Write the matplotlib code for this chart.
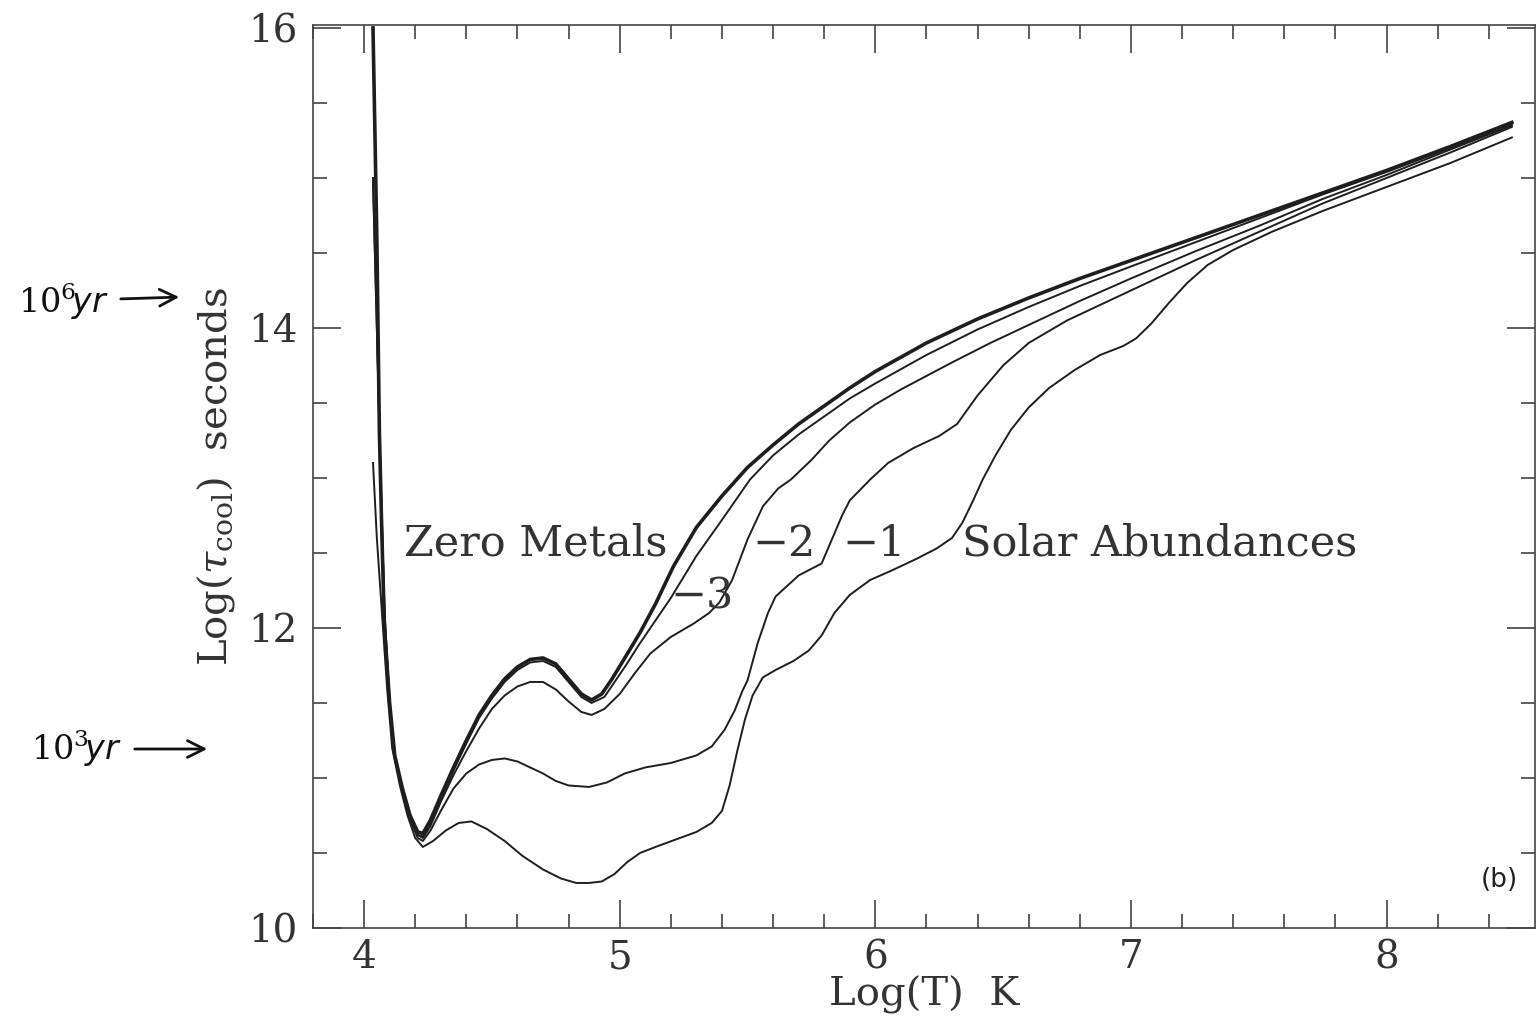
import matplotlib
matplotlib.use("Agg")
import matplotlib.pyplot as plt
from matplotlib.ticker import MultipleLocator

# log T (K) vs log cooling time (s)
zero_x = [4.035, 4.05, 4.06, 4.07, 4.08, 4.10, 4.12, 4.15, 4.18, 4.21, 4.23, 4.26,
          4.30, 4.35, 4.40, 4.45, 4.50, 4.55, 4.60, 4.65, 4.70, 4.75, 4.80, 4.85,
          4.89, 4.93, 4.97, 5.02, 5.08, 5.14, 5.21, 5.30, 5.40, 5.50, 5.60, 5.70,
          5.80, 5.90, 6.00, 6.20, 6.40, 6.60, 6.80, 7.00, 7.25, 7.50, 7.75, 8.00,
          8.25, 8.49]
zero_y = [16.0, 14.6, 13.3, 12.6, 12.0, 11.5, 11.15, 10.93, 10.75, 10.64, 10.63, 10.72,
          10.88, 11.07, 11.25, 11.42, 11.55, 11.66, 11.74, 11.79, 11.80, 11.76, 11.66, 11.56,
          11.52, 11.56, 11.66, 11.80, 11.97, 12.16, 12.41, 12.67, 12.88, 13.07, 13.22, 13.36,
          13.48, 13.60, 13.71, 13.90, 14.06, 14.20, 14.33, 14.45, 14.60, 14.75, 14.90, 15.05,
          15.21, 15.37]

m3_x = [4.035, 4.05, 4.06, 4.07, 4.08, 4.10, 4.12, 4.15, 4.18, 4.21, 4.23, 4.26,
        4.30, 4.35, 4.40, 4.45, 4.50, 4.55, 4.60, 4.65, 4.70, 4.75, 4.80, 4.85,
        4.89, 4.94, 5.02, 5.08, 5.14, 5.20, 5.30, 5.40, 5.51, 5.60, 5.70, 5.80,
        5.90, 6.00, 6.20, 6.40, 6.60, 6.80, 7.00, 7.25, 7.50, 7.75, 8.00, 8.25, 8.49]
m3_y = [16.0, 14.6, 13.3, 12.6, 12.0, 11.5, 11.14, 10.91, 10.73, 10.62, 10.61, 10.70,
        10.86, 11.05, 11.23, 11.40, 11.53, 11.64, 11.72, 11.77, 11.78, 11.74, 11.64, 11.54,
        11.50, 11.54, 11.74, 11.90, 12.05, 12.20, 12.48, 12.72, 12.99, 13.15, 13.29, 13.41,
        13.53, 13.63, 13.82, 13.99, 14.14, 14.28, 14.41, 14.57, 14.73, 14.89, 15.04, 15.20, 15.36]

m2_x = [4.035, 4.05, 4.065, 4.08, 4.10, 4.12, 4.15, 4.18, 4.21, 4.23, 4.26, 4.30,
        4.35, 4.40, 4.45, 4.50, 4.55, 4.60, 4.65, 4.70, 4.75, 4.80, 4.85, 4.89,
        4.94, 5.00, 5.06, 5.12, 5.20, 5.29, 5.35, 5.39, 5.44, 5.50, 5.56, 5.62,
        5.67, 5.75, 5.82, 5.90, 6.00, 6.10, 6.20, 6.30, 6.45, 6.60, 6.80, 7.00,
        7.25, 7.50, 7.75, 8.00, 8.25, 8.49]
m2_y = [15.0, 14.0, 13.0, 12.1, 11.5, 11.15, 10.92, 10.73, 10.62, 10.60, 10.68, 10.84,
        11.02, 11.18, 11.33, 11.46, 11.55, 11.61, 11.64, 11.64, 11.59, 11.51, 11.44, 11.42,
        11.46, 11.56, 11.70, 11.83, 11.94, 12.03, 12.10, 12.17, 12.32, 12.59, 12.81, 12.93,
        12.99, 13.12, 13.25, 13.37, 13.49, 13.59, 13.68, 13.77, 13.90, 14.02, 14.18, 14.33,
        14.51, 14.68, 14.86, 15.02, 15.19, 15.35]

m1_x = [4.035, 4.05, 4.065, 4.08, 4.10, 4.12, 4.15, 4.18, 4.21, 4.23, 4.26, 4.30,
        4.35, 4.40, 4.45, 4.50, 4.55, 4.60, 4.65, 4.70, 4.75, 4.80, 4.88, 4.95,
        5.02, 5.10, 5.20, 5.30, 5.36, 5.41, 5.45, 5.48, 5.50, 5.54, 5.58, 5.61,
        5.70, 5.79, 5.83, 5.87, 5.90, 5.98, 6.05, 6.15, 6.25, 6.32, 6.40, 6.50,
        6.60, 6.75, 6.90, 7.00, 7.25, 7.50, 7.75, 8.00, 8.25, 8.49]
m1_y = [14.97, 14.0, 13.0, 12.1, 11.5, 11.15, 10.90, 10.72, 10.60, 10.58, 10.65, 10.78,
        10.93, 11.03, 11.09, 11.12, 11.13, 11.11, 11.07, 11.03, 10.98, 10.95, 10.94, 10.97,
        11.03, 11.07, 11.10, 11.15, 11.21, 11.32, 11.45, 11.58, 11.65, 11.90, 12.10, 12.21,
        12.35, 12.43, 12.59, 12.75, 12.85, 12.99, 13.10, 13.20, 13.28, 13.36, 13.55, 13.75,
        13.90, 14.05, 14.17, 14.25, 14.45, 14.64, 14.83, 15.00, 15.17, 15.34]

sol_x = [4.035, 4.05, 4.07, 4.09, 4.11, 4.14, 4.17, 4.20, 4.23, 4.27, 4.32, 4.37,
         4.42, 4.48, 4.55, 4.62, 4.70, 4.77, 4.83, 4.88, 4.93, 4.98, 5.03, 5.08,
         5.14, 5.22, 5.30, 5.36, 5.40, 5.43, 5.46, 5.49, 5.52, 5.56, 5.61, 5.68,
         5.74, 5.79, 5.84, 5.90, 5.98, 6.06, 6.16, 6.24, 6.30, 6.34, 6.38, 6.42,
         6.47, 6.53, 6.60, 6.68, 6.78, 6.88, 6.97, 7.02, 7.08, 7.15, 7.22, 7.30,
         7.40, 7.55, 7.75, 8.00, 8.25, 8.49]
sol_y = [13.1, 12.6, 12.1, 11.6, 11.2, 10.95, 10.75, 10.60, 10.54, 10.58, 10.65, 10.70,
         10.71, 10.66, 10.58, 10.48, 10.39, 10.33, 10.30, 10.30, 10.31, 10.36, 10.44, 10.50,
         10.54, 10.59, 10.64, 10.70, 10.78, 10.95, 11.18, 11.39, 11.55, 11.67, 11.72, 11.78,
         11.85, 11.95, 12.10, 12.22, 12.32, 12.38, 12.46, 12.53, 12.60, 12.70, 12.84, 12.99,
         13.15, 13.32, 13.47, 13.60, 13.72, 13.82, 13.88, 13.93, 14.03, 14.17, 14.30, 14.42,
         14.52, 14.64, 14.78, 14.94, 15.10, 15.27]

SERIF = "DejaVu Serif"
INK = "#1e1e1e"
TXT = "#333333"
plt.rcParams["mathtext.fontset"] = "dejavuserif"

fig = plt.figure(figsize=(15.37, 10.23), dpi=100)
ax = fig.add_axes([0.2036, 0.0929, 0.7950, 0.8827])

ax.plot(zero_x, zero_y, color=INK, lw=2.6)
for xs, ys in [(m3_x, m3_y), (m2_x, m2_y), (m1_x, m1_y), (sol_x, sol_y)]:
    ax.plot(xs, ys, color=INK, lw=1.4)

ax.set_xlim(3.8, 8.58)
ax.set_ylim(10, 16.02)
ax.xaxis.set_major_locator(MultipleLocator(1))
ax.xaxis.set_minor_locator(MultipleLocator(0.2))
ax.yaxis.set_major_locator(MultipleLocator(2))
ax.yaxis.set_minor_locator(MultipleLocator(0.5))
ax.tick_params(which="both", direction="in", top=True, right=True,
               color="#333333", width=1.1)
ax.tick_params(which="major", length=20, labelsize=28)
ax.tick_params(axis="x", which="major", pad=8)
ax.tick_params(axis="y", which="major", pad=11)
ax.tick_params(which="minor", length=10)
for lab in ax.get_xticklabels() + ax.get_yticklabels():
    lab.set_fontfamily(SERIF)
    lab.set_color(TXT)
for sp in ax.spines.values():
    sp.set_linewidth(1.2)
    sp.set_color("#444444")

ax.set_xlabel("Log(T)  K", fontsize=29, family=SERIF, color=TXT, labelpad=0)
ax.set_ylabel(r"Log($\tau_{\rm cool}$)  seconds", fontsize=29, family=SERIF,
              color=TXT, labelpad=8)

lab_kw = dict(fontsize=31, family=SERIF, color=TXT, va="center", ha="left")
ax.text(4.155, 12.56, "Zero Metals", **lab_kw)
ax.text(5.20, 12.21, "\u22123", **lab_kw)
ax.text(5.52, 12.56, "\u22122", **lab_kw)
ax.text(5.87, 12.56, "\u22121", **lab_kw)
ax.text(6.34, 12.56, "Solar Abundances", **lab_kw)
ax.text(8.44, 10.32, "(b)", fontsize=19, ha="center", va="center", color="#222222")

# handwritten notes in the left margin
note_kw = dict(fontsize=24, style="italic", color="#111111", ha="left", va="center")
fig.text(0.012, 0.705, r"$10^{6}\!$yr", **note_kw)
fig.text(0.020, 0.268, r"$10^{3}\!$yr", **note_kw)
ax.annotate("", xy=(182, 726), xytext=(118, 724), xycoords="figure pixels",
            textcoords="figure pixels",
            arrowprops=dict(arrowstyle="->", lw=2, color="#111111", mutation_scale=30))
ax.annotate("", xy=(210, 274), xytext=(132, 274), xycoords="figure pixels",
            textcoords="figure pixels",
            arrowprops=dict(arrowstyle="->", lw=2, color="#111111", mutation_scale=30))

fig.savefig("out.png", dpi=100)
